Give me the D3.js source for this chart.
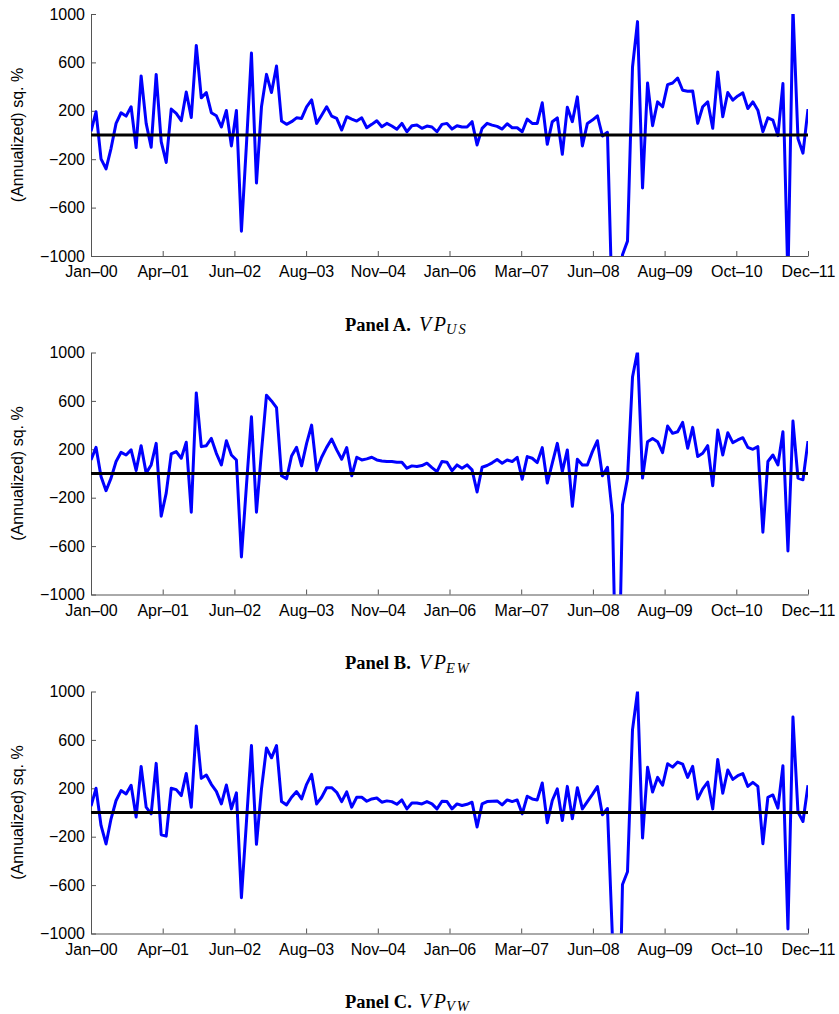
<!DOCTYPE html>
<html>
<head>
<meta charset="utf-8">
<script src="https://cdn.jsdelivr.net/npm/d3@7"></script>
<style>
  html, body { margin: 0; padding: 0; background: #fff; }
  svg { display: block; }
</style>
</head>
<body>
<script>
// ---- Data (monthly, Jan-2000 .. Dec-2011), annualized squared % ----
const xTickLabels = ["Jan\u201300","Apr\u201301","Jun\u201302","Aug\u201303","Nov\u201304","Jan\u201306","Mar\u201307","Jun\u201308","Aug\u201309","Oct\u201310","Dec\u201311"];
const yTickValues = [-1000, -600, -200, 200, 600, 1000];

const vpUS = [30,192,-197,-280,-110,96,184,156,233,-104,
  488,96,-101,501,-55,-227,214,178,118,356,
  145,740,307,351,184,159,66,203,-90,203,
  -795,-80,677,-397,233,501,351,570,115,88,
  110,142,137,233,290,96,164,233,156,137,
  41,151,132,115,142,60,88,118,68,96,
  74,47,96,27,77,82,55,74,66,27,
  88,96,49,77,66,66,110,-82,55,96,
  82,71,49,93,60,60,27,132,96,96,
  266,-77,110,142,-159,230,110,315,-90,96,
  123,159,-8,22,-1500,-2000,-990,-877,562,937,
  -438,430,77,274,233,416,430,471,370,362,
  364,96,233,274,55,521,151,351,288,323,
  348,219,274,205,27,142,123,-5,425,-1200,
  1050,-30,-150,214];

const vpEW = [112,216,-25,-142,-38,99,175,153,195,25,
  230,3,71,249,-353,-162,162,181,126,258,
  -320,666,222,230,290,167,71,271,153,112,
  -690,-100,469,-320,180,647,600,545,-19,-44,
  145,216,63,249,400,25,134,216,285,195,
  118,214,-19,134,112,121,134,112,104,99,
  99,93,93,44,63,58,66,85,49,16,
  99,93,22,71,44,71,30,-153,52,66,
  88,115,85,112,99,134,-47,140,126,90,
  214,-79,85,249,16,195,-271,118,71,71,
  181,271,-19,52,-340,-2300,-258,-38,797,1010,
  -38,263,290,263,173,392,332,345,422,208,
  381,140,167,230,-101,359,153,337,255,277,
  296,216,200,222,-485,99,153,71,345,-641,
  433,-38,-52,268];

const vpVW = [52,200,-107,-260,-52,99,181,153,225,-38,
  381,44,-11,406,-184,-195,200,189,140,323,
  44,715,282,310,233,175,71,227,30,162,
  -704,-80,553,-263,195,534,452,553,90,63,
  126,173,112,233,315,71,126,205,205,167,
  90,170,44,126,126,93,112,120,85,96,
  90,68,104,30,79,79,71,90,71,30,
  93,90,30,71,58,68,85,-120,71,90,
  93,96,63,104,90,104,-11,134,112,104,
  244,-85,99,195,-66,216,-52,205,30,90,
  150,215,-19,33,-1040,-2500,-595,-490,685,1000,
  -211,373,170,290,225,403,375,417,400,290,
  381,112,195,252,30,438,159,351,274,304,
  321,216,249,216,-258,126,145,36,386,-962,
  789,3,-74,225];

const panelLetters = ["A", "B", "C"];
const panelSubs = ["US", "EW", "VW"];
const panelSeries = [vpUS, vpEW, vpVW];

// ---- Layout ----
const W = 839, H = 1014;
const plotLeft = 91, plotRight = 808, plotH = 242;
const panelTops = [14, 352.5, 691.5];
const captionBaselines = [330.7, 669.3, 1007.7];

const svg = d3.select("body").append("svg")
  .attr("width", W).attr("height", H)
  .attr("font-family", "'Liberation Sans', Arial, Helvetica, sans-serif");

const nMonths = vpUS.length;
const x = d3.scaleLinear().domain([0, nMonths - 1]).range([0, plotRight - plotLeft]);
const y = d3.scaleLinear().domain([-1000, 1000]).range([plotH, 0]);
const xTickPos = xTickLabels.map((d, k) => k * (nMonths - 1) / (xTickLabels.length - 1));

svg.append("defs").append("clipPath").attr("id", "plotclip")
  .append("rect").attr("x", 0).attr("y", 0)
  .attr("width", plotRight - plotLeft).attr("height", plotH);

panelSeries.forEach((series, p) => {
  const g = svg.append("g").attr("transform", `translate(${plotLeft},${panelTops[p]})`);

  // axes
  const xAxis = d3.axisBottom(x).tickValues(xTickPos)
    .tickFormat((d, i) => xTickLabels[i])
    .tickSizeInner(-5).tickSizeOuter(0).tickPadding(10);
  const yAxis = d3.axisLeft(y).tickValues(yTickValues)
    .tickFormat(d => d < 0 ? "\u2212" + Math.abs(d) : String(d))
    .tickSizeInner(-5).tickSizeOuter(0).tickPadding(6);

  const gx = g.append("g").attr("transform", `translate(0,${plotH})`).call(xAxis);
  const gy = g.append("g").call(yAxis);
  [gx, gy].forEach(a => {
    a.selectAll("path.domain").attr("stroke", "#555").attr("stroke-width", 1);
    a.selectAll(".tick line").attr("stroke", "#555").attr("stroke-width", 1);
    a.selectAll(".tick text").attr("fill", "#000").attr("font-size", 16)
      .attr("font-family", "'Liberation Sans', Arial, sans-serif");
  });

  // series line
  const line = d3.line().x((d, i) => x(i)).y(d => y(d));
  g.append("path").datum(series)
    .attr("clip-path", "url(#plotclip)")
    .attr("fill", "none").attr("stroke", "#0000ff")
    .attr("stroke-width", 3).attr("stroke-linejoin", "round")
    .attr("d", line);

  // zero line
  g.append("line")
    .attr("x1", x(0)).attr("x2", x(nMonths - 1))
    .attr("y1", y(0)).attr("y2", y(0))
    .attr("stroke", "#000").attr("stroke-width", 3.2);

  // y label
  svg.append("text")
    .attr("transform", `translate(23,${panelTops[p] + y(0)}) rotate(-90)`)
    .attr("text-anchor", "middle")
    .attr("font-size", 16).attr("fill", "#000")
    .text("(Annualized) sq. %");

  // caption
  const cap = svg.append("text")
    .attr("y", captionBaselines[p])
    .attr("font-family", "'Liberation Serif', 'Times New Roman', serif")
    .attr("fill", "#000");
  cap.append("tspan").attr("x", 345).attr("font-weight", "bold").attr("font-size", 18.5)
    .text(`Panel ${panelLetters[p]}.`);
  cap.append("tspan").attr("x", 419).attr("font-style", "italic").attr("font-size", 20)
    .attr("letter-spacing", 2.5).text("VP");
  cap.append("tspan").attr("x", 446).attr("font-style", "italic").attr("font-size", 14.5)
    .attr("letter-spacing", 2).attr("dy", 3.5).text(panelSubs[p]);
});
</script>
</body>
</html>
